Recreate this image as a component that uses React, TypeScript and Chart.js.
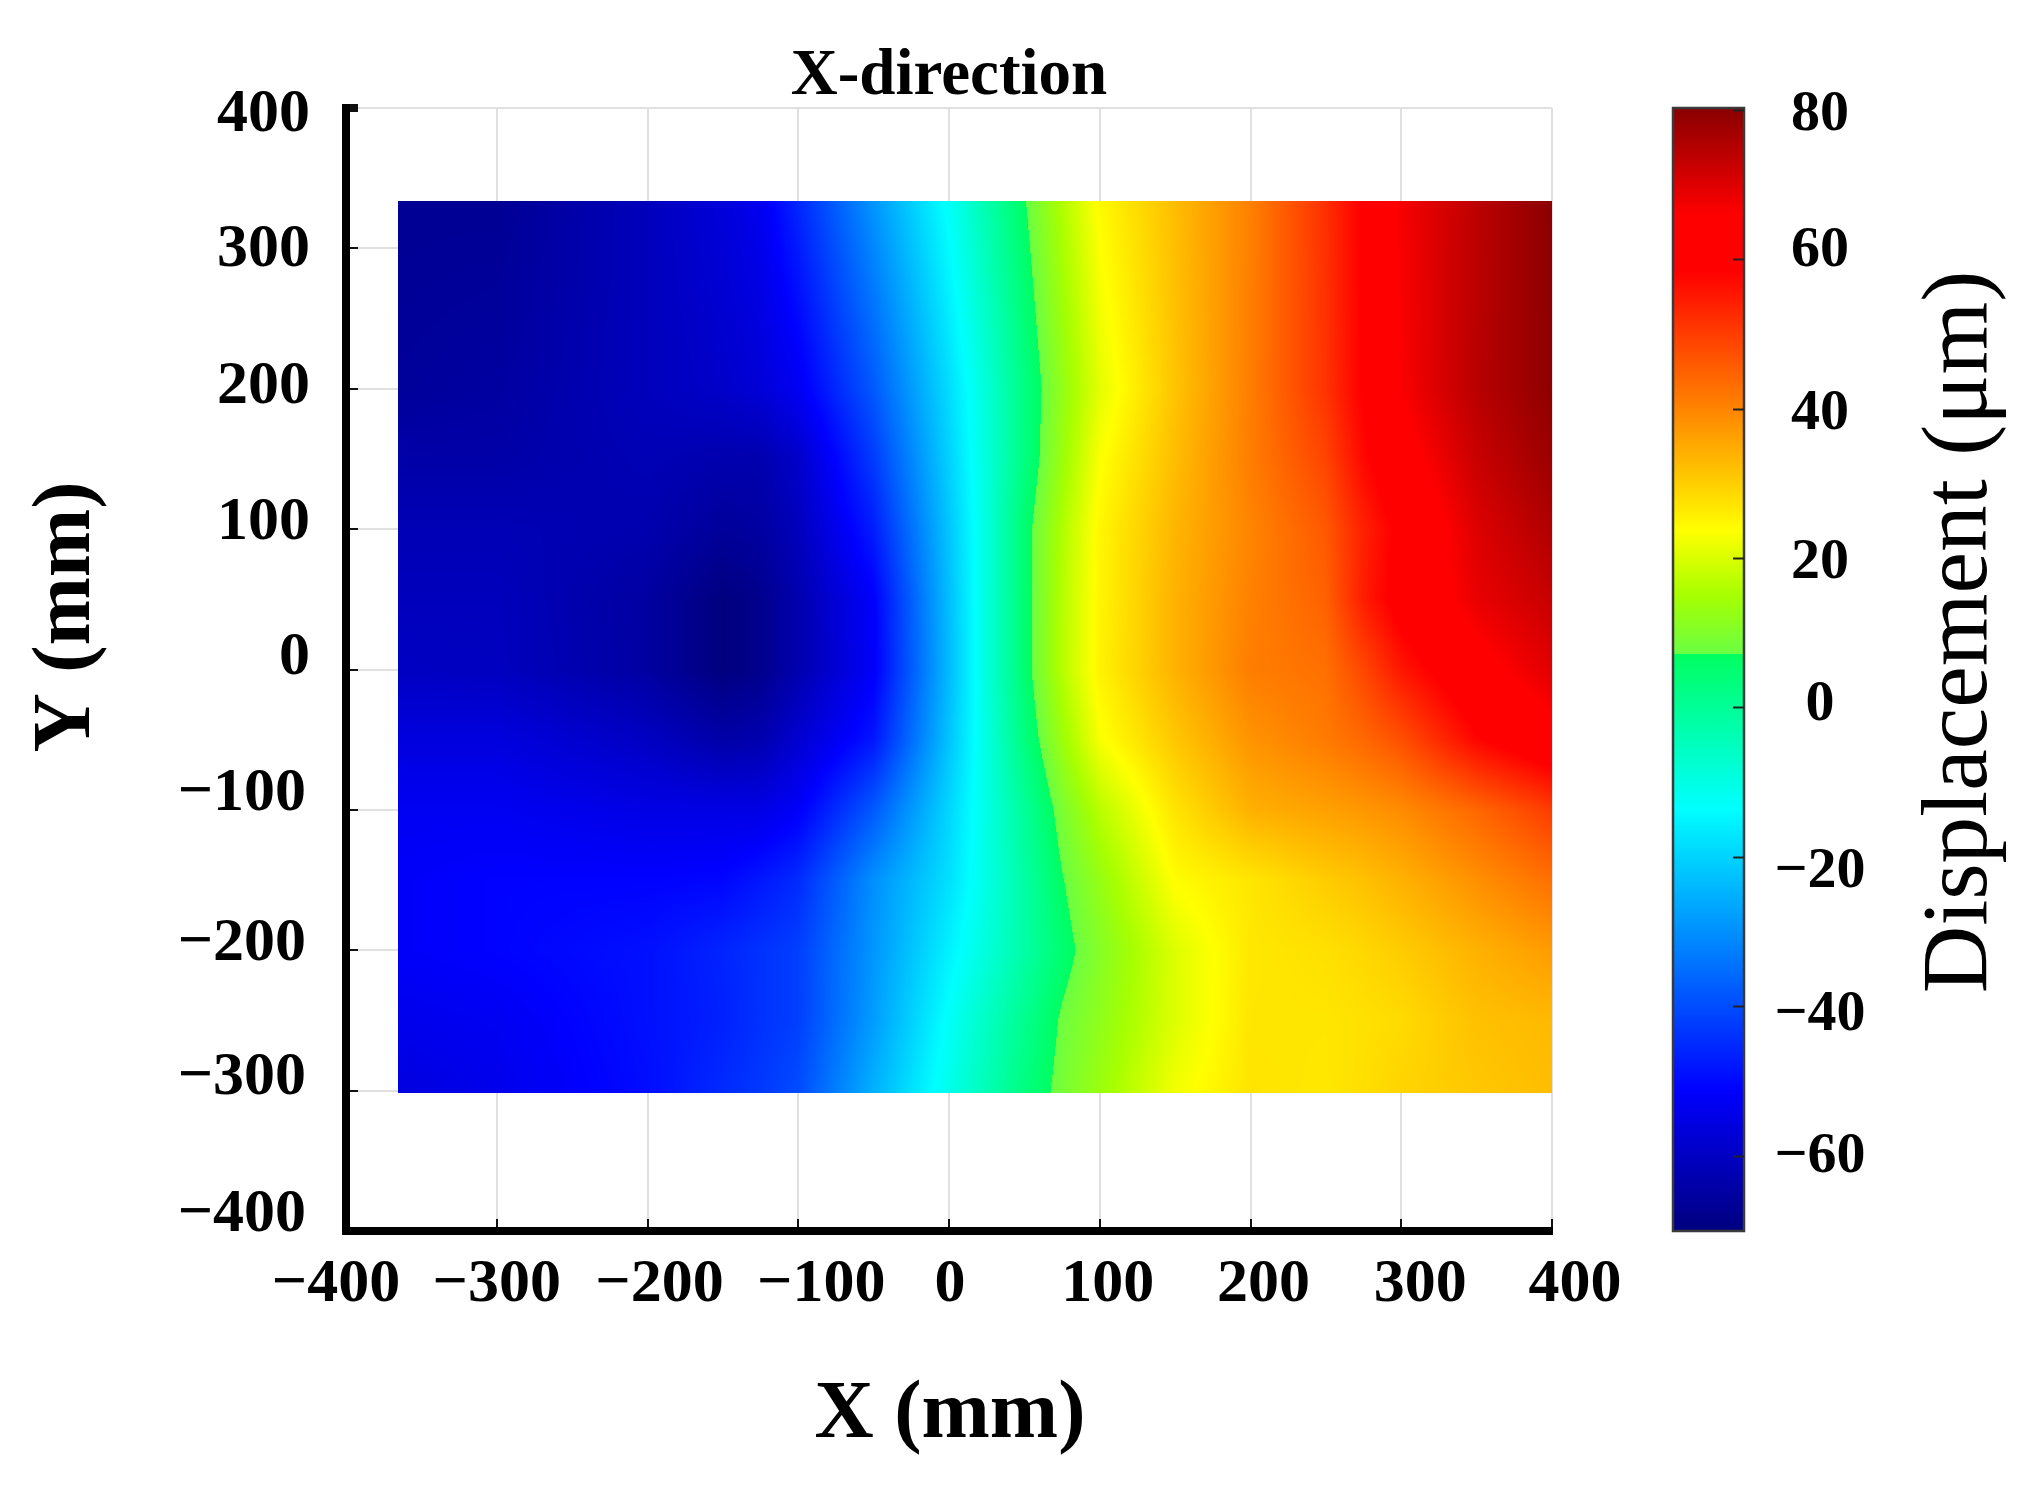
import { useEffect, useRef } from "react";
import { Chart, registerables } from "chart.js";

Chart.register(...registerables);

const serif = "'Liberation Serif', 'Times New Roman', serif";

const chartTitle = "X-direction";
const xTitle = "X (mm)";
const yTitle = "Y (mm)";
const barTitle = "Displacement (μm)";

const barTicks = [80, 60, 40, 20, 0, -20, -40, -60];

// displacement (um) at these grid nodes
const heatX = [-365.5, -300, -200, -150, -125, -100, -50, 0, 25, 50, 75, 100, 150, 200, 250, 275, 300, 350, 400];
const heatY = [333.7, 200, 150, 100, 50, 0, -50, -100, -150, -200, -250, -301.5];
const heatRows = [
  [-67, -67, -61, -56.5, -53.5, -45.5, -29, -12.4, -2.8, 6.8, 16, 24.4, 32.5, 40.6, 52, 59, 67, 74, 80],
  [-66, -65, -61, -59, -57, -53, -38, -18.5, -8.2, 2.8, 12.4, 21, 31.6, 41, 51.5, 59, 66.5, 74.5, 79.6],
  [-64, -64, -62, -63, -63, -59, -42.5, -20.2, -8.8, 3, 13.5, 23.3, 32.5, 41, 49, 57.5, 63.5, 72.5, 78],
  [-62, -62, -63, -66, -65, -61, -47, -22, -9, 5, 15.9, 24.8, 33.6, 40, 46.2, 54, 60, 70, 75.6],
  [-61, -61, -65, -70, -68, -63, -51.5, -23, -9, 5, 16.5, 25, 34, 40.5, 45, 54.5, 61, 68.6, 72.7],
  [-60, -60.5, -65, -70, -68, -63, -52, -23.6, -9, 5, 16.6, 25.3, 34, 41, 42.9, 48.7, 55.5, 64, 69.7],
  [-56, -56, -60, -64, -63, -58, -48, -22.2, -9.5, 3.2, 13.6, 23, 31.2, 38, 41.4, 44, 47.4, 57.9, 64],
  [-53, -53, -55, -55, -55, -52, -38, -19.5, -10, 0, 9.3, 16.8, 27.3, 34.2, 36.3, 37.5, 39, 44.1, 50.2],
  [-52, -51, -51, -50.5, -48, -45, -30, -18, -10, -1.6, 6.9, 12.8, 24, 27, 30.5, 32, 34, 38.5, 42.9],
  [-52, -51, -49, -46, -44, -42, -29, -15.5, -8.7, -1.8, 5.2, 10.7, 20.4, 26.8, 27.8, 29, 30.5, 34, 37],
  [-54, -53, -49, -46.5, -44, -42, -28, -12.6, -5.7, 1.3, 7.9, 12, 20.4, 27, 27, 27.7, 28.5, 32, 33],
  [-56, -54, -49.5, -45, -43, -40, -25, -10.7, -3.8, 3.2, 9, 13.5, 22.5, 27.3, 26.8, 28, 29.5, 31, 32.5],
];

// jet-like colour bar, with the jump at about 7 um and the wide red band of the reference
const mapValues = [-70, -51.2, -13.5, 7.2, 7.2, 15, 23.7, 40.6, 58.5, 66, 80];
const mapColors = [
  [0, 0, 127], [0, 0, 255], [0, 255, 255], [0, 255, 96], [106, 255, 68],
  [166, 255, 0], [255, 255, 0], [255, 128, 0], [255, 0, 0], [255, 0, 0], [139, 0, 0],
];

// hand placed labels in the reference, offset from their ticks (ascending tick order)
const xLabelShift = [-10, 0, 12, 23, 1, 8, 13, 19, 23];
const yLabelShift = [-16, -13, -6, -16, -12, -6, -2, 2, 7];
const barLabelShift = [5, -9, 5, 4, -3, 15, 8, 1];

function colorAt(v: number) {
  if (v <= mapValues[0]) return mapColors[0];
  for (let i = 1; i < mapValues.length; i++) {
    if (v <= mapValues[i] && mapValues[i] > mapValues[i - 1]) {
      const t = (v - mapValues[i - 1]) / (mapValues[i] - mapValues[i - 1]);
      const a = mapColors[i - 1];
      const b = mapColors[i];
      return [a[0] + (b[0] - a[0]) * t, a[1] + (b[1] - a[1]) * t, a[2] + (b[2] - a[2]) * t];
    }
  }
  return mapColors[mapColors.length - 1];
}

function segment(list: number[], v: number, descending: boolean) {
  for (let i = 0; i < list.length - 2; i++) {
    if (descending ? v >= list[i + 1] : v <= list[i + 1]) return i;
  }
  return list.length - 2;
}

function fieldAt(x: number, y: number) {
  const i = segment(heatX, x, false);
  const j = segment(heatY, y, true);
  const tx = (x - heatX[i]) / (heatX[i + 1] - heatX[i]);
  const ty = (y - heatY[j]) / (heatY[j + 1] - heatY[j]);
  const top = heatRows[j][i] * (1 - tx) + heatRows[j][i + 1] * tx;
  const bottom = heatRows[j + 1][i] * (1 - tx) + heatRows[j + 1][i + 1] * tx;
  return top * (1 - ty) + bottom * ty;
}

function placeLabels(
  scale: any,
  shifts: number[],
  at: (pixel: number, shift: number, value: number) => [number, number],
  align: string,
) {
  scale.getLabelItems().forEach((item: any, i: number) => {
    const value = scale.ticks[i].value;
    item.options.translation = at(scale.getPixelForValue(value), shifts[i], value);
    item.options.textBaseline = "middle";
    item.options.textAlign = align;
    item.textOffset = 0;
  });
}

const fieldPlugin = {
  id: "field",
  beforeDraw(chart: any) {
    const { x, y, cb } = chart.scales;
    placeLabels(x, xLabelShift, (p, s) => [p + s, 1285], "center");
    placeLabels(y, yLabelShift, (p, s, v) => [v < 0 ? 306 : 310, p + s], "right");
    placeLabels(cb, barLabelShift, (p, s) => [1820, p + s], "center");
  },
  beforeDatasetsDraw(chart: any) {
    const { ctx } = chart;
    const { x, y, cb } = chart.scales;

    const left = Math.round(x.getPixelForValue(heatX[0]));
    const right = Math.round(x.getPixelForValue(heatX[heatX.length - 1]));
    const top = Math.round(y.getPixelForValue(heatY[0]));
    const bottom = Math.round(y.getPixelForValue(heatY[heatY.length - 1]));
    const w = right - left;
    const h = bottom - top;
    const off = document.createElement("canvas");
    off.width = w;
    off.height = h;
    const offCtx = off.getContext("2d")!;
    const img = offCtx.createImageData(w, h);
    for (let py = 0; py < h; py++) {
      const yv = y.getValueForPixel(top + py + 0.5);
      for (let px = 0; px < w; px++) {
        const c = colorAt(fieldAt(x.getValueForPixel(left + px + 0.5), yv));
        const k = (py * w + px) * 4;
        img.data[k] = c[0];
        img.data[k + 1] = c[1];
        img.data[k + 2] = c[2];
        img.data[k + 3] = 255;
      }
    }
    offCtx.putImageData(img, 0, 0);
    ctx.drawImage(off, left, top);

    // colour bar
    const barLeft = 1673;
    const barRight = 1744;
    for (let py = Math.floor(cb.top); py < cb.bottom; py++) {
      const c = colorAt(cb.getValueForPixel(py + 0.5));
      ctx.fillStyle = `rgb(${c[0]},${c[1]},${c[2]})`;
      ctx.fillRect(barLeft, py, barRight - barLeft, 1);
    }
    ctx.strokeStyle = "#3a3a3a";
    ctx.lineWidth = 2.5;
    ctx.strokeRect(barLeft, cb.top, barRight - barLeft, cb.bottom - cb.top);
  },
  afterDraw(chart: any) {
    const { ctx } = chart;
    ctx.save();
    ctx.fillStyle = "#000";
    ctx.textAlign = "center";
    ctx.textBaseline = "middle";
    ctx.font = `bold 82px ${serif}`;
    ctx.fillText(xTitle, 950, 1416);
    ctx.save();
    ctx.translate(68, 617);
    ctx.rotate(-Math.PI / 2);
    ctx.fillText(yTitle, 0, 0);
    ctx.restore();
    ctx.font = `93.5px ${serif}`;
    ctx.translate(1961, 632);
    ctx.rotate(-Math.PI / 2);
    ctx.fillText(barTitle, 0, 0);
    ctx.restore();
  },
};

const signed = (v: any) => (Number(v) < 0 ? `−${-Number(v)}` : `${v}`);

const gridColor = "#e0e0e0";

export default function App() {
  const chartRef = useRef<HTMLCanvasElement>(null);

  useEffect(() => {
    if (!chartRef.current) return;

    const nodes = heatRows.flatMap((row, j) => row.map((v, i) => ({ x: heatX[i], y: heatY[j], v })));

    const chart = new Chart(chartRef.current, {
      type: "scatter",
      data: {
        datasets: [{ label: "Displacement", data: nodes, pointRadius: 0, showLine: false }],
      },
      plugins: [fieldPlugin],
      options: {
        responsive: false,
        animation: false,
        devicePixelRatio: 1,
        layout: { padding: { left: 0, right: 485, top: 0, bottom: 0 } },
        plugins: {
          legend: { display: false },
          tooltip: { enabled: false },
          title: {
            display: true,
            text: chartTitle,
            fullSize: false,
            color: "#000",
            font: { family: serif, size: 65, weight: "bold", lineHeight: 0.9 },
            padding: { top: 48, bottom: 1.5 },
          },
        },
        scales: {
          x: {
            type: "linear",
            min: -400,
            max: 400,
            afterFit: (s: any) => {
              s.height = 260;
            },
            ticks: {
              stepSize: 100,
              color: "#000",
              maxRotation: 0,
              font: { family: serif, size: 62, weight: "bold" },
              callback: signed,
            },
            grid: { color: gridColor, lineWidth: 2, tickColor: "#111", tickWidth: 2, tickLength: -12 },
            border: { color: "#000", width: 8 },
          },
          y: {
            type: "linear",
            min: -400,
            max: 400,
            afterFit: (s: any) => {
              s.width = 346;
            },
            ticks: {
              stepSize: 100,
              color: "#000",
              font: { family: serif, size: 62, weight: "bold" },
              callback: signed,
            },
            grid: {
              color: gridColor,
              lineWidth: 2,
              tickColor: "#111",
              tickWidth: (c: any) => (c.tick && c.tick.value === 400 ? 8 : 2),
              tickLength: -12,
            },
            border: { color: "#000", width: 8 },
          },
          cb: {
            type: "linear",
            axis: "y",
            position: { x: 527.6 },
            min: -70,
            max: 80.3,
            afterBuildTicks: (s: any) => {
              s.ticks = barTicks.map((value) => ({ value }));
            },
            ticks: {
              color: "#000",
              autoSkip: false,
              font: { family: serif, size: 58, weight: "bold" },
              callback: signed,
            },
            grid: { z: 1, drawOnChartArea: false, tickColor: "#222", tickWidth: 2, tickLength: 11 },
            border: { display: false },
          },
        },
      } as any,
    });

    return () => {
      chart.destroy();
    };
  }, []);

  return (
    <canvas
      ref={chartRef}
      width={2037}
      height={1491}
      style={{ position: "absolute", left: 0, top: 0, display: "block" }}
    />
  );
}
